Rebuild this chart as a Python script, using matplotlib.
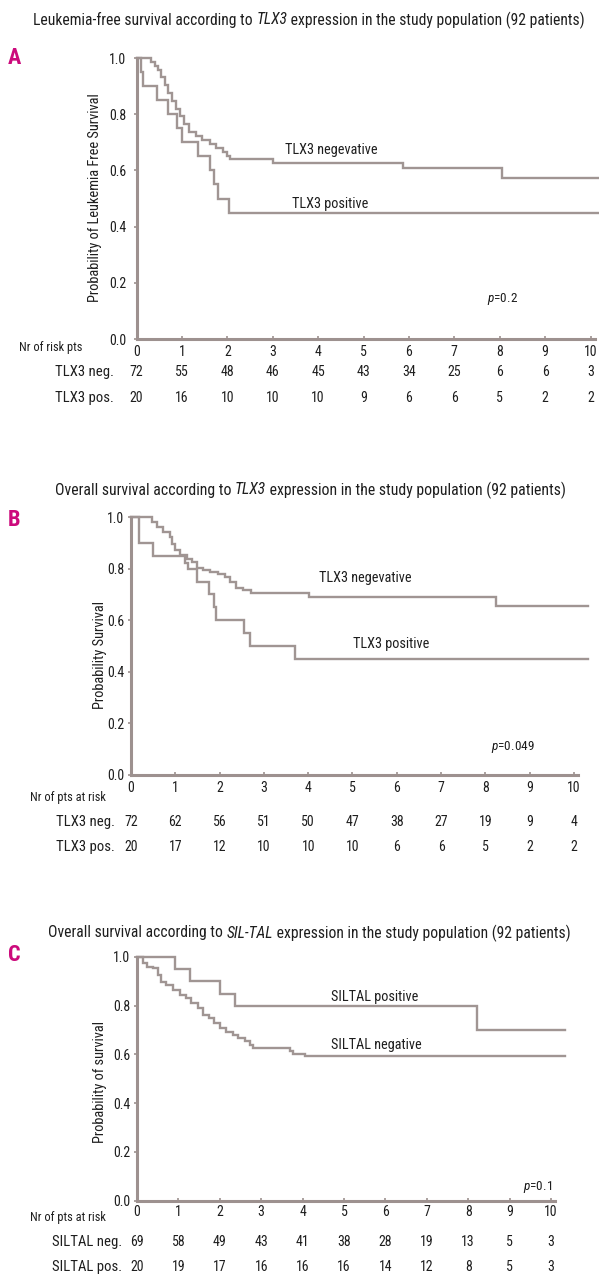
import matplotlib
matplotlib.use("Agg")
import matplotlib.pyplot as plt
from matplotlib.transforms import blended_transform_factory

FONT = 'Roboto Condensed'
plt.rcParams['font.family'] = [FONT, 'Archivo Narrow', 'DejaVu Sans']
plt.rcParams['mathtext.fontset'] = 'custom'
plt.rcParams['mathtext.rm'] = FONT
plt.rcParams['mathtext.it'] = FONT + ':italic'

# ---------------- data ----------------
years = list(range(0, 11))

# Panel A: leukemia-free survival
a_neg_t = [0, 0.33, 0.40, 0.47, 0.55, 0.62, 0.70, 0.78, 0.86, 0.95, 1.05, 1.15, 1.30, 1.45, 1.62, 1.75, 1.90, 2.00, 2.06, 3.01, 5.87, 8.05]
a_neg_s = [1.0, 0.986, 0.972, 0.958, 0.931, 0.903, 0.875, 0.847, 0.819, 0.792, 0.764, 0.736, 0.722, 0.708, 0.694, 0.681, 0.667, 0.653, 0.640, 0.625, 0.608, 0.572]
a_pos_t = [0, 0.10, 0.15, 0.45, 0.70, 0.90, 1.00, 1.36, 1.62, 1.70, 1.80, 2.04]
a_pos_s = [1.0, 0.95, 0.90, 0.85, 0.80, 0.75, 0.70, 0.65, 0.60, 0.55, 0.50, 0.45]
a_risk_neg = [72, 55, 48, 46, 45, 43, 34, 25, 6, 6, 3]
a_risk_pos = [20, 16, 10, 10, 10, 9, 6, 6, 5, 2, 2]

# Panel B: overall survival by TLX3
b_neg_t = [0, 0.47, 0.58, 0.73, 0.88, 0.92, 0.99, 1.10, 1.26, 1.37, 1.48, 1.63, 1.78, 1.97, 2.12, 2.23, 2.38, 2.53, 2.72, 4.02, 8.25]
b_neg_s = [1.0, 0.982, 0.962, 0.943, 0.923, 0.897, 0.871, 0.852, 0.839, 0.826, 0.801, 0.794, 0.788, 0.781, 0.768, 0.749, 0.723, 0.717, 0.705, 0.691, 0.655]
b_pos_t = [0, 0.17, 0.50, 1.14, 1.22, 1.29, 1.48, 1.75, 1.88, 1.93, 2.54, 2.69, 3.70]
b_pos_s = [1.0, 0.90, 0.85, 0.85, 0.82, 0.80, 0.75, 0.70, 0.65, 0.60, 0.55, 0.50, 0.45]
b_risk_neg = [72, 62, 56, 51, 50, 47, 38, 27, 19, 9, 4]
b_risk_pos = [20, 17, 12, 10, 10, 10, 6, 6, 5, 2, 2]

# Panel C: overall survival by SIL-TAL
c_pos_t = [0, 0.92, 1.28, 2.00, 2.37, 8.22]
c_pos_s = [1.0, 0.95, 0.90, 0.85, 0.80, 0.70]
c_neg_t = [0, 0.15, 0.23, 0.39, 0.51, 0.59, 0.71, 0.87, 1.03, 1.19, 1.31, 1.47, 1.59, 1.75, 1.87, 2.00, 2.16, 2.33, 2.45, 2.61, 2.73, 2.81, 3.69, 3.77, 4.05]
c_neg_s = [1.0, 0.974, 0.960, 0.953, 0.926, 0.899, 0.885, 0.865, 0.844, 0.830, 0.810, 0.789, 0.762, 0.748, 0.728, 0.707, 0.694, 0.680, 0.667, 0.653, 0.640, 0.626, 0.612, 0.603, 0.594]
c_risk_neg = [69, 58, 49, 43, 41, 38, 28, 19, 13, 5, 3]
c_risk_pos = [20, 19, 17, 16, 16, 16, 14, 12, 8, 5, 3]

# ---------------- layout ----------------
W, H = 599, 1277
fig = plt.figure(figsize=(W / 100, H / 100), dpi=100)
renderer = fig.canvas.get_renderer()
LINE = '#a09593'
AXC = '#9d918f'
TXT = '#1e1e1e'
MAG = '#cc0a7c'

def fy(py):
    return 1 - py / H

def fx(px):
    return px / W

def rich(parts, x_left, x_right, py, size):
    """Draw a line of text made of (string, style) parts, fitted between x_left and x_right."""
    texts = [fig.text(0, fy(py), s, style=st, fontsize=size, color=TXT, va='center', ha='left')
             for s, st in parts]
    widths = [t.get_window_extent(renderer).width for t in texts]
    scale = (x_right - x_left) / sum(widths)
    for t in texts:
        t.set_fontsize(size * scale)
    widths = [t.get_window_extent(renderer).width for t in texts]
    x = x_left
    for t, w in zip(texts, widths):
        t.set_x(fx(x))
        x += w

panels = [
    dict(letter='A', letter_xy=(14, 58),
         title=[('Leukemia-free survival according to ', 'normal'), ('TLX3', 'italic'),
                (' expression in the study population (92 patients)', 'normal')],
         title_span=(33, 586), title_y=20, x0=136.5, xs=45.4, y0=339, y1=58, xend=10.19,
         ylabel='Probability of Leukemia Free Survival', ylab_xy=(95, 198),
         curves=[(a_neg_t, a_neg_s), (a_pos_t, a_pos_s)],
         labels=[('TLX3 negevative', 285, 150), ('TLX3 positive', 292, 204)],
         pval=('$\\mathit{p}$=0.2', 487, 299),
         risk_title=('Nr of risk pts', 19, 347),
         rows=[('TLX3 neg.', a_risk_neg, 372), ('TLX3 pos.', a_risk_pos, 398)], row_right=114,
         xpad=4.0, ypad=5.5),
    dict(letter='B', letter_xy=(14, 520),
         title=[('Overall survival according to ', 'normal'), ('TLX3', 'italic'),
                (' expression in the study population (92 patients)', 'normal')],
         title_span=(55, 563), title_y=490, x0=131, xs=44.3, y0=775, y1=517, xend=10.32,
         ylabel='Probability Survival', ylab_xy=(100, 655),
         curves=[(b_neg_t, b_neg_s), (b_pos_t, b_pos_s)],
         labels=[('TLX3 negevative', 319, 578), ('TLX3 positive', 353, 644)],
         pval=('$\\mathit{p}$=0.049', 491, 747),
         risk_title=('Nr of pts at risk', 30, 797),
         rows=[('TLX3 neg.', b_risk_neg, 822), ('TLX3 pos.', b_risk_pos, 847)], row_right=115,
         xpad=4.0, ypad=3.0),
    dict(letter='C', letter_xy=(14, 955),
         title=[('Overall survival according to ', 'normal'), ('SIL-TAL', 'italic'),
                (' expression in the study population (92 patients)', 'normal')],
         title_span=(48, 571), title_y=933, x0=137, xs=41.4, y0=1200.5, y1=957, xend=10.33,
         ylabel='Probability of survival', ylab_xy=(100, 1082),
         curves=[(c_pos_t, c_pos_s), (c_neg_t, c_neg_s)],
         labels=[('SILTAL positive', 331, 997), ('SILTAL negative', 331, 1045)],
         pval=('$\\mathit{p}$=0.1', 523, 1187),
         risk_title=('Nr of pts at risk', 30, 1217),
         rows=[('SILTAL neg.', c_risk_neg, 1242), ('SILTAL pos.', c_risk_pos, 1267)], row_right=122,
         xpad=3.0, ypad=3.0),
]

for p in panels:
    left = p['x0']
    right = p['x0'] + p['xs'] * p['xend']
    ax = fig.add_axes([fx(left), fy(p['y0']), (right - left) / W, (p['y0'] - p['y1']) / H])
    ax.set_xlim(0, p['xend'])
    ax.set_ylim(0, 1.0)
    for s in ('top', 'right'):
        ax.spines[s].set_visible(False)
    for s in ('left', 'bottom'):
        ax.spines[s].set_color(AXC)
        ax.spines[s].set_linewidth(2.2)
    ax.spines['bottom'].set_bounds(0, 10.1)
    ax.set_xticks(years)
    ax.set_xticklabels([str(v) for v in years])
    ax.set_yticks([0.0, 0.2, 0.4, 0.6, 0.8, 1.0])
    ax.set_yticklabels(['0.0', '0.2', '0.4', '0.6', '0.8', '1.0'])
    ax.tick_params(axis='x', direction='in', length=2, width=1.2, color=AXC,
                   labelsize=10, labelcolor=TXT, pad=p['xpad'])
    ax.tick_params(axis='y', direction='out', length=2, width=1.2, color=AXC,
                   labelsize=10, labelcolor=TXT, pad=p['ypad'])
    ax.patch.set_alpha(0)
    for t, s in p['curves']:
        ax.step(list(t) + [p['xend']], list(s) + [s[-1]], where='post',
                color=LINE, lw=1.7, clip_on=False, solid_joinstyle='miter')
    # curve labels
    for txt, px, py in p['labels']:
        fig.text(fx(px), fy(py), txt, ha='left', va='center', fontsize=10.3, color=TXT)
    fig.text(fx(p['pval'][1]), fy(p['pval'][2]), p['pval'][0], ha='left', va='center',
             fontsize=9.5, color=TXT)
    # title and letter
    rich(p['title'], p['title_span'][0], p['title_span'][1], p['title_y'], 11.5)
    fig.text(fx(p['letter_xy'][0]), fy(p['letter_xy'][1]), p['letter'], ha='center',
             va='center', fontsize=16, fontweight='bold', color=MAG)
    fig.text(fx(p['ylab_xy'][0]), fy(p['ylab_xy'][1]), p['ylabel'], rotation=90,
             ha='center', va='center', fontsize=10.4, color=TXT)
    # risk table
    rt, rx, ry = p['risk_title']
    fig.text(fx(rx), fy(ry), rt, ha='left', va='center', fontsize=8.9, color=TXT)
    tr = blended_transform_factory(ax.transData, fig.transFigure)
    for lab, vals, py in p['rows']:
        fig.text(fx(p['row_right']), fy(py), lab, ha='right', va='center', fontsize=10.6, color=TXT)
        for yr, v in zip(years, vals):
            ax.text(yr, fy(py), str(v), transform=tr, ha='center', va='center',
                    fontsize=10, color=TXT, clip_on=False)

fig.savefig('out.png', dpi=100, facecolor='white')
